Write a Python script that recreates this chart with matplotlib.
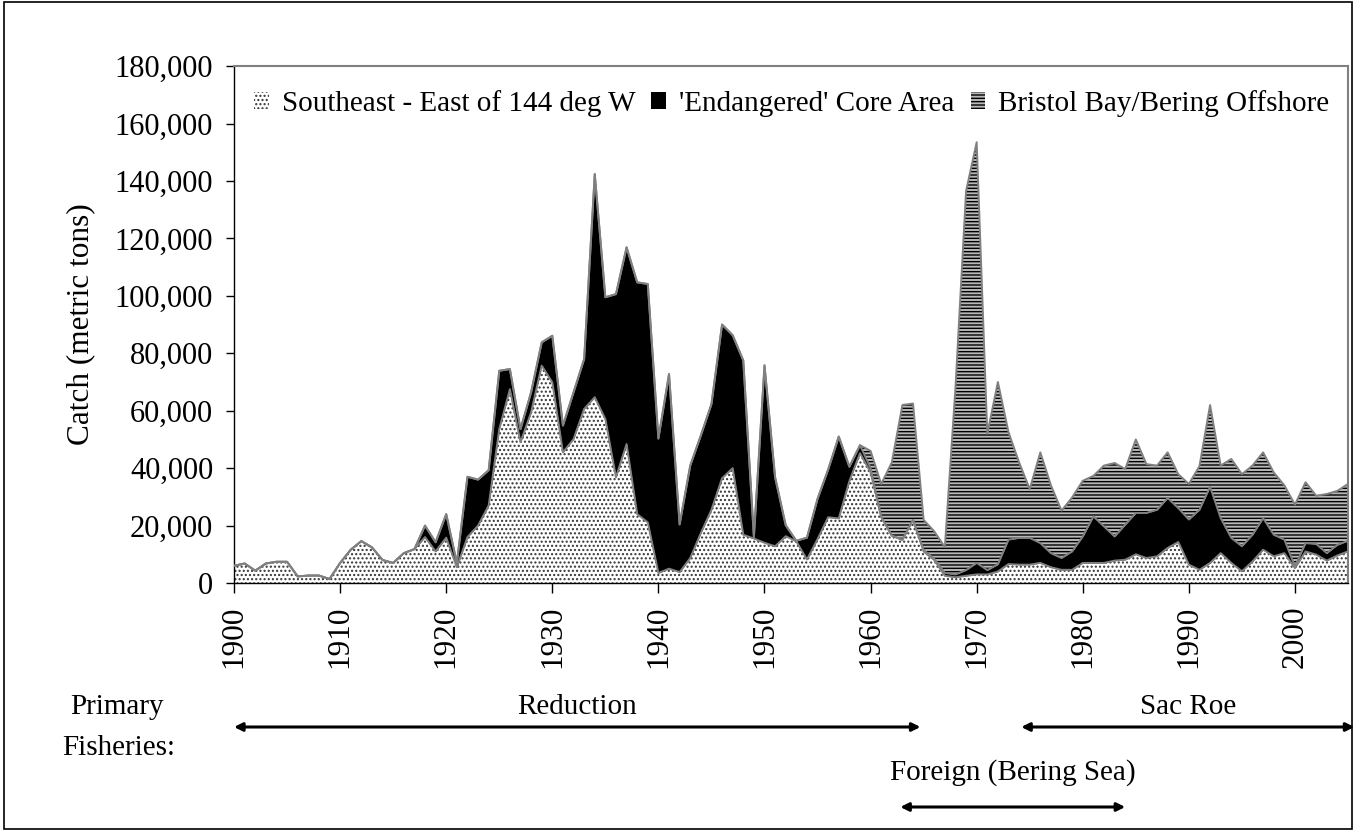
import numpy as np
import matplotlib
matplotlib.use("Agg")
import matplotlib.pyplot as plt
from matplotlib.patches import Patch, Rectangle
from matplotlib.ticker import FuncFormatter

plt.rcParams['font.family'] = ['Liberation Serif', 'DejaVu Serif']
plt.rcParams['hatch.linewidth'] = 1.0

years = np.arange(1900, 2006)

# catch in metric tons
southeast = [
    6000, 6800, 4300, 6800, 7400, 7400, 2300, 2600, 2600, 1400,
    7000, 11600, 14600, 12400, 8000, 7000, 10400, 11800, 16000, 11000,
    15800, 5500, 16000, 20000, 27000, 53600, 67500, 49000, 59400, 75700,
    69900, 45500, 50100, 60600, 64700, 57100, 36800, 48400, 24000, 21100,
    3500, 5000, 3800, 8700, 17400, 25500, 36500, 40000, 16800, 15500,
    14000, 12800, 16300, 14500, 8200, 15300, 22900, 22500, 35500, 45200,
    38500, 23000, 16500, 15000, 22000, 11000, 8000, 2500, 2000, 2500,
    3000, 3000, 4000, 6600, 6400, 6400, 7000, 5500, 4600, 4600,
    7000, 7000, 7000, 7800, 8100, 10000, 8700, 9300, 12200, 14300,
    6400, 4600, 7000, 10400, 7000, 4100, 7500, 11600, 9300, 10400,
    5200, 11000, 9900, 7800, 9600, 11000,
]
core_area = [
    0, 0, 0, 0, 0, 0, 0, 0, 0, 0,
    0, 0, 0, 0, 0, 0, 0, 0, 4000, 3200,
    8200, 1500, 21000, 16000, 12300, 20300, 7000, 4600, 7000, 8100,
    16200, 9300, 16300, 17400, 77700, 42400, 63800, 68500, 80700, 83000,
    46800, 67800, 16600, 32200, 34000, 36800, 53500, 46300, 60700, 500,
    61800, 24000, 3800, 200, 7600, 14000, 16600, 28500, 5000, 2800,
    1500, 0, 0, 0, 0, 500, 500, 1000, 1000, 2000,
    4000, 1500, 2500, 8500, 9300, 9300, 6900, 4900, 4100, 6400,
    9200, 16200, 12700, 8400, 12200, 14400, 15700, 16200, 17400, 11800,
    15700, 20900, 26500, 12200, 8700, 8700, 9300, 11000, 7500, 4700,
    600, 2900, 3700, 2600, 3700, 3700,
]
bristol_bay = [0] * 60 + [
    6000, 11500, 25500, 47000, 40500, 10500, 9500, 9000, 65000, 132000,
    146500, 47500, 63500, 37400, 26300, 17000, 31600, 23600, 16500, 18800,
    19400, 14100, 21200, 25600, 19400, 25600, 17000, 15400, 15900, 11800,
    12400, 15200, 28500, 18300, 27500, 25100, 24100, 22900, 21700, 18900,
    21500, 21200, 16800, 20600, 18800, 19800,
]
labels = ["Southeast - East of 144 deg W", "'Endangered' Core Area",
          "Bristol Bay/Bering Offshore"]

# primary fisheries periods (start year, end year, label)
fisheries = [
    (1900, 1964.7, "Reduction"),
    (1974.2, 2005.6, "Sac Roe"),
    (1962.8, 1984.0, "Foreign (Bering Sea)"),
]

se = np.array(southeast)
core = se + np.array(core_area)
total = core + np.array(bristol_bay)

fig = plt.figure(figsize=(13.56, 8.31), dpi=100)
ax = fig.add_axes([0.1726, 0.2984, 0.8215, 0.6221])

outline = "#808080"
bb_face = "#b8b8b8"
ax.fill_between(years, 0, se, facecolor="white", edgecolor="#333333",
                hatch="....", linewidth=0, zorder=2)
ax.fill_between(years, se, core, facecolor="black", edgecolor="black",
                linewidth=0, zorder=2)
ax.fill_between(years, core, total, facecolor=bb_face, edgecolor="black",
                hatch="-----", linewidth=0, zorder=2)
for top in (se, core, total):
    ax.plot(years, top, color=outline, linewidth=1.4, zorder=3)

ax.set_xlim(1900, 2005)
ax.set_ylim(0, 180000)
ax.set_yticks(np.arange(0, 180001, 20000))
ax.yaxis.set_major_formatter(FuncFormatter(lambda v, p: f"{int(v):,}"))
ax.set_xticks(np.arange(1900, 2001, 10))
ax.tick_params(axis="y", direction="out", length=6, width=1, labelsize=22, pad=9)
ax.tick_params(axis="x", direction="out", length=7, width=1, labelsize=22.5,
               labelrotation=90, pad=9)
ax.set_ylabel("Catch (metric tons)", fontsize=22.5, labelpad=14)
for s in ("top", "right"):
    ax.spines[s].set_color(outline)
    ax.spines[s].set_linewidth(1.5)
for s in ("left", "bottom"):
    ax.spines[s].set_color("black")
    ax.spines[s].set_linewidth(1)

handles = [
    Patch(facecolor="white", edgecolor="#333333", hatch="....", linewidth=0),
    Patch(facecolor="black", edgecolor="black", linewidth=0),
    Patch(facecolor=bb_face, edgecolor="black", hatch="-----", linewidth=0),
]
ax.legend(handles, labels, loc="center left", bbox_to_anchor=(0.018, 0.928),
          ncol=3, frameon=False, fontsize=21, handlelength=0.5,
          handleheight=0.5, handletextpad=0.45, columnspacing=0.55,
          borderpad=0, borderaxespad=0)

# primary fisheries annotation below the axis
fig.text(117 / 1356, 1 - 707 / 831, "Primary", fontsize=21, ha="center", va="center")
fig.text(119 / 1356, 1 - 748 / 831, "Fisheries:", fontsize=21, ha="center", va="center")
label_y = [707, 707, 773]
arrow_y = [727, 727, 807]
for (x0, x1, name), ty, ay in zip(fisheries, label_y, arrow_y):
    ax.annotate("", xy=(x0, 1 - ay / 831), xytext=(x1, 1 - ay / 831),
                xycoords=("data", "figure fraction"),
                textcoords=("data", "figure fraction"),
                arrowprops=dict(arrowstyle="<|-|>", color="black", lw=2.2,
                                mutation_scale=12, shrinkA=0, shrinkB=0),
                annotation_clip=False)
    ax.annotate(name, xy=((x0 + x1) / 2, 1 - ty / 831),
                xycoords=("data", "figure fraction"), fontsize=21,
                ha="center", va="center", annotation_clip=False)

fig.patches.append(Rectangle((0.003, 0.003), 0.994, 0.994, transform=fig.transFigure,
                             fill=False, edgecolor="black", linewidth=1.2))

fig.savefig("out.png", dpi=100)
